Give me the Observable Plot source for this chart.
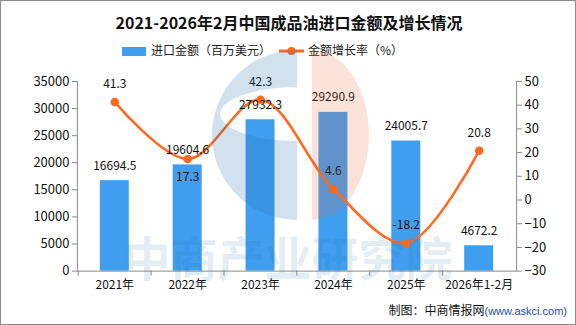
<!DOCTYPE html>
<html>
<head>
<meta charset="utf-8">
<script src="https://cdn.jsdelivr.net/npm/d3@7"></script>
<script src="https://cdn.jsdelivr.net/npm/@observablehq/plot@0.6"></script>
<style>
  html, body { margin: 0; padding: 0; background: #fff; }
  #page { position: relative; width: 576px; height: 325px; overflow: hidden; box-sizing: border-box; border: 1px solid #8c8c8c; font-family: "Noto Sans CJK SC", sans-serif; }
  #title { position: absolute; left: 0; top: 10px; width: 576px; text-align: center; font-size: 16px; font-weight: bold; color: #111; line-height: 22px; }
  #legend { position: absolute; left: 0; top: 40px; width: 576px; height: 18px; font-size: 12px; color: #222; }
  .lg { position: absolute; top: 0; line-height: 18px; white-space: nowrap; }
  #chart { position: absolute; left: -1px; top: 59px; }
  #caption { position: absolute; right: 8px; top: 300px; font-size: 12px; color: #111; white-space: nowrap; line-height: 18px; }
  #caption span { color: #1f4fa0; font-family: "Liberation Sans", sans-serif; font-size: 11px; }
  #wm { position: absolute; left: -1px; top: -1px; pointer-events: none; }
</style>
</head>
<body>
<div id="page">
  <div id="title"></div>
  <div id="legend"></div>
  <div id="chart"></div>
  <div id="caption">制图：中商情报网<span>(www.askci.com)</span></div>
</div>
<script>
// ---- data ----
const titleText = "2021-2026年2月中国成品油进口金额及增长情况";
const seriesBarName = "进口金额（百万美元）";
const seriesLineName = "金额增长率（%）";
const years = ["2021年", "2022年", "2023年", "2024年", "2025年", "2026年1-2月"];
const amounts = [16694.5, 19604.6, 27932.3, 29290.9, 24005.7, 4672.2];
const growth = [41.3, 17.3, 42.3, 4.6, -18.2, 20.8];
const growthLabelBelow = [false, true, false, false, false, false];
const leftTicks = [0, 5000, 10000, 15000, 20000, 25000, 30000, 35000];
const rightTicks = [-30, -20, -10, 0, 10, 20, 30, 40, 50];

// ---- colors / layout ----
const barColor = "#409ef0";
const lineColor = "#ff6a1f";
const axisColor = "#8a8a8a";
const W = 576, H = 238, mL = 77, mR = 59, mT = 21, mB = 27;

document.getElementById("title").textContent = titleText;
document.getElementById("legend").innerHTML =
  `<div class="lg" style="left:121px;"><span style="display:inline-block;width:24px;height:9px;background:${barColor};vertical-align:-1px;margin-right:5px;"></span>${seriesBarName}</div>` +
  `<div class="lg" style="left:278px;"><svg width="25" height="10" style="vertical-align:-1px;margin-right:4px;"><line x1="0" y1="5" x2="25" y2="5" stroke="${lineColor}" stroke-width="3"/><circle cx="12.5" cy="5" r="4" fill="${lineColor}"/></svg>${seriesLineName}</div>`;

const yMax = leftTicks[leftTicks.length - 1];
const pMin = rightTicks[0], pMax = rightTicks[rightTicks.length - 1];
const toY = p => (p - pMin) / (pMax - pMin) * yMax;
const fromY = v => v / yMax * (pMax - pMin) + pMin;

const data = years.map((year, i) => ({
  year, amount: amounts[i], growth: growth[i], gy: toY(growth[i]), below: growthLabelBelow[i]
}));

const step = (W - mL - mR) / years.length;
const font = "'Noto Sans CJK SC', sans-serif";

const chart = Plot.plot({
  width: W, height: H,
  marginTop: mT, marginBottom: mB, marginLeft: mL, marginRight: mR,
  style: { fontFamily: font, fontSize: "12px", color: "#111", background: "transparent", overflow: "visible" },
  x: { domain: years, paddingInner: 0.6, paddingOuter: 0.3, axis: null, label: null },
  y: { domain: [0, yMax], axis: null, label: null },
  marks: [
    Plot.barY(data, { x: "year", y: "amount", fill: barColor }),
    Plot.axisX({ tickSize: 0, tickPadding: 9, fill: "#111", fontSize: 12, label: null }),
    Plot.axisX({ tickSize: 5, tickFormat: () => "", stroke: axisColor, dx: -step / 2, label: null }),
    Plot.axisY(leftTicks, { anchor: "left", tickSize: 5, tickPadding: 3, stroke: axisColor, fill: "#111", fontSize: 13, label: null, tickFormat: d => String(d) }),
    Plot.axisY(rightTicks.map(toY), { anchor: "right", tickSize: 5, tickPadding: 3, stroke: axisColor, fill: "#111", fontSize: 13, label: null, tickFormat: v => String(Math.round(fromY(v))).replace("-", "−") }),
    Plot.frame({ anchor: "left", stroke: axisColor }),
    Plot.frame({ anchor: "right", stroke: axisColor }),
    Plot.frame({ anchor: "bottom", stroke: axisColor }),
    Plot.line(data, { x: "year", y: "gy", stroke: lineColor, strokeWidth: 2.6, curve: "catmull-rom" }),
    Plot.dot(data, { x: "year", y: "gy", r: 4.3, fill: lineColor }),
    Plot.text(data, { x: "year", y: "amount", text: d => d.amount.toFixed(1), dy: -15, fill: "#111", fontSize: 12 }),
    Plot.text(data.filter(d => !d.below), { x: "year", y: "gy", text: d => d.growth.toFixed(1), dy: -18, fill: "#111", fontSize: 12 }),
    Plot.text(data.filter(d => d.below), { x: "year", y: "gy", text: d => d.growth.toFixed(1), dy: 18, fill: "#111", fontSize: 12 })
  ]
});
document.getElementById("chart").appendChild(chart);

// ---- watermark overlay (logo + text) ----
const ns = "http://www.w3.org/2000/svg";
const wm = document.createElementNS(ns, "svg");
wm.setAttribute("id", "wm");
wm.setAttribute("width", 576);
wm.setAttribute("height", 325);
wm.innerHTML = `
  <path d="M297,50 A85,85 0 0 0 297,220 Z M297,87 A77,27 0 0 0 297,141 Z" fill="#1a6fa8" fill-opacity="0.2" fill-rule="evenodd"/>
  <path d="M312,50 A57,85 0 0 1 312,220 Z" fill="#e8622a" fill-opacity="0.18"/>
  <text x="288" y="276" text-anchor="middle" font-family="'Noto Sans CJK SC', sans-serif" font-weight="bold" font-size="47" fill="#1a6fa8" fill-opacity="0.14">中商产业研究院</text>
`;
document.getElementById("page").appendChild(wm);
</script>
</body>
</html>
